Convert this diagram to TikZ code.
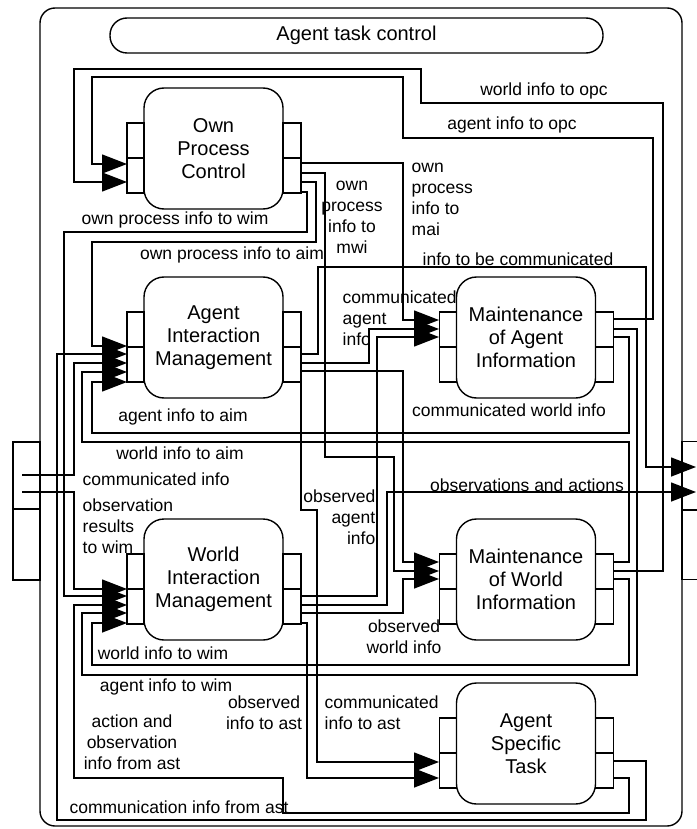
\documentclass[tikz,border=0pt]{standalone}
\usepackage{fontspec}
\setmainfont{Liberation Sans}
\usepackage{tikz}
\usetikzlibrary{arrows.meta, positioning, calc}

\newcommand\lbltext{\fontsize{17.5}{21}\selectfont}
\newcommand\comptext{\fontsize{20}{23}\selectfont}
\newcommand\porttabs[1]{%
  \draw ($(#1.north west)+(-17,35)$) rectangle ($(#1.north west)+(0,105)$);
  \draw ($(#1.north west)+(-17,70)$) -- ($(#1.north west)+(0,70)$);
  \draw ($(#1.north east)+(0,35)$) rectangle ($(#1.north east)+(18,105)$);
  \draw ($(#1.north east)+(0,70)$) -- ($(#1.north east)+(18,70)$);
}

\begin{document}
\begin{tikzpicture}[
    x=1pt, y=-1pt, line width=1.4pt,
    comp/.style={draw, rounded corners=20pt, minimum width=139pt, minimum height=121pt, align=center, font=\comptext, inner sep=0pt, outer sep=0pt},
    extbox/.style={draw, minimum width=27pt, minimum height=138pt, inner sep=0pt, outer sep=0pt},
    lbl/.style={font=\lbltext, align=center, inner sep=0pt},
    link/.style={-{Triangle[length=25pt, width=19pt]}}
  ]
  \useasboundingbox (0,0) rectangle (696,829);

  \node[draw, rounded corners=15pt, minimum width=642pt, minimum height=818pt, inner sep=0pt, outer sep=0pt] (agent) at (361,417) {};
  \node[draw, rounded corners=17pt, minimum width=493pt, minimum height=35pt, inner sep=0pt, outer sep=0pt, font=\comptext] (atc) at (356.5,35.5) {Agent task control};

  \node[extbox] (envin) at (26.5,511) {};
  \draw (envin.west |- 0,509) -- (envin.east |- 0,509);
  \node[extbox, minimum width=33pt] (envout) at (698.5,510.5) {};
  \draw (envout.west |- 0,510) -- (envout.east |- 0,510);

  \node[comp] (opc) at (213.5,148.5) {Own\\Process\\Control};
  \node[comp] (aim) at (213.5,337.5) {Agent\\Interaction\\Management};
  \node[comp] (wim) at (213.5,579.5) {World\\Interaction\\Management};
  \node[comp] (mai) at (526,337.5) {Maintenance\\of Agent\\Information};
  \node[comp] (mwi) at (526,579.5) {Maintenance\\of World\\Information};
  \node[comp] (ast) at (526,743.5) {Agent\\Specific\\Task};
  \foreach \c in {opc, aim, wim, mai, mwi, ast} {\porttabs{\c}}

  \coordinate (in1) at (22,475);
  \coordinate (in2) at (22,492);
  \coordinate (out1) at (696,467);
  \coordinate (out2) at (696,492);

  \coordinate (opc-i1) at (127,164);
  \coordinate (opc-i2) at (127,182);
  \coordinate (opc-o1) at (301,163);
  \coordinate (opc-o2) at (301,173);
  \coordinate (opc-o3) at (301,182);
  \coordinate (opc-o4) at (301,192);

  \coordinate (aim-i1) at (127,346);
  \coordinate (aim-i2) at (127,354);
  \coordinate (aim-i3) at (127,363);
  \coordinate (aim-i4) at (127,372);
  \coordinate (aim-i5) at (127,382);
  \coordinate (aim-o1) at (301,354);
  \coordinate (aim-o2) at (301,363);
  \coordinate (aim-o3) at (301,371);
  \coordinate (aim-o4) at (301,382);

  \coordinate (wim-i1) at (127,589);
  \coordinate (wim-i2) at (127,596);
  \coordinate (wim-i3) at (127,605);
  \coordinate (wim-i4) at (127,613);
  \coordinate (wim-i5) at (127,623);
  \coordinate (wim-o1) at (301,596);
  \coordinate (wim-o2) at (301,605);
  \coordinate (wim-o3) at (301,613);
  \coordinate (wim-o4) at (301,623);

  \coordinate (mai-i1) at (439,320);
  \coordinate (mai-i2) at (439,329);
  \coordinate (mai-i3) at (439,337);
  \coordinate (mai-o1) at (613,319);
  \coordinate (mai-o2) at (613,329);
  \coordinate (mai-o3) at (613,337);

  \coordinate (mwi-i1) at (439,562);
  \coordinate (mwi-i2) at (439,571);
  \coordinate (mwi-i3) at (439,579);
  \coordinate (mwi-o1) at (613,562);
  \coordinate (mwi-o2) at (613,571);
  \coordinate (mwi-o3) at (613,579);

  \coordinate (ast-i1) at (439,762);
  \coordinate (ast-i2) at (439,778);
  \coordinate (ast-o1) at (613,761);
  \coordinate (ast-o2) at (613,778);

  \draw[link] (mai-o1) -- (653,319) |- (403,138) |- (92,77) |- (opc-i1);
  \draw[link] (mwi-o2) -- (663,571) |- (421,103) |- (74,69) |- (opc-i2);

  \draw[link] (opc-o1) -- (403,163) |- (mai-i1);
  \draw[link] (opc-o2) -- (325,173) |- (394,457) |- (mwi-i2);
  \draw[link] (opc-o3) -- (316,182) |- (92,242) |- (aim-i1);
  \draw[link] (opc-o4) -- (307,192) |- (64,232) |- (wim-i2);

  \draw[link] (aim-o1) -- (318,354) |- (646,267) |- (out1);
  \draw[link] (aim-o2) -- (369,363) |- (mai-i2);
  \draw[link] (aim-o3) -- (403,371) |- (mwi-i1);
  \draw[link] (aim-o4) -- (301,510) -- (317,510) |- (ast-i1);

  \draw[link] (in1) -- (74,475) |- (aim-i3);
  \draw[link] (ast-o1) -- (646,761) |- (57,820) |- (aim-i2);
  \draw[link] (mwi-o1) -- (629,562) |- (82,442) |- (aim-i4);
  \draw[link] (mai-o3) -- (629,337) |- (92,433) |- (aim-i5);

  \draw[link] (in2) -- (74,492) |- (wim-i1);
  \draw[link] (ast-o2) -- (629,778) |- (283,813) |- (74,778) |- (wim-i3);
  \draw[link] (mai-o2) -- (637,329) |- (82,675) |- (wim-i4);
  \draw[link] (mwi-o3) -- (629,579) |- (92,665) |- (wim-i5);

  \draw[link] (wim-o1) -- (377,596) |- (mai-i3);
  \draw[link] (wim-o2) -- (387,605) |- (out2);
  \draw[link] (wim-o3) -- (403,613) |- (mwi-i3);
  \draw[link] (wim-o4) -- (307,623) |- (ast-i2);

  \node[lbl] (l-wopc) at (544,91) {world info to opc};
  \node[lbl] (l-aopc) at (512,125) {agent info to opc};
  \node[lbl] (l-owim) at (175,220) {own process info to wim};
  \node[lbl] (l-oaim) at (232,255) {own process info to aim};
  \node[lbl] (l-omwi) at (352,217) {own\\process\\info to\\mwi};
  \node[lbl, align=left, anchor=west] (l-omai) at (411,199) {own\\process\\info to\\mai};
  \node[lbl] (l-icom) at (518,259) {info to be communicated};
  \node[lbl, align=left, anchor=west] (l-cai) at (342,318) {communicated\\agent\\info};
  \node[lbl] (l-cwi) at (509,410) {communicated world info};
  \node[lbl] (l-aaim) at (183,417) {agent info to aim};
  \node[lbl] (l-waim) at (180,453) {world info to aim};
  \node[lbl, anchor=west] (l-ci) at (82,479) {communicated info};
  \node[lbl, align=left, anchor=west] (l-orw) at (82,526) {observation\\results\\to wim};
  \node[lbl] (l-oa) at (527,485) {observations and actions};
  \node[lbl, align=right, anchor=east] (l-oai) at (376,517) {observed\\agent\\info};
  \node[lbl] (l-owi) at (404,637) {observed\\world info};
  \node[lbl] (l-wwim) at (163,653) {world info to wim};
  \node[lbl] (l-awim) at (166,687) {agent info to wim};
  \node[lbl] (l-oast) at (264,713) {observed\\info to ast};
  \node[lbl, align=left, anchor=west] (l-cast) at (324,713) {communicated\\info to ast};
  \node[lbl] (l-aoast) at (132,742) {action and\\observation\\info from ast};
  \node[lbl] (l-ciast) at (179,807) {communication info from ast};
\end{tikzpicture}
\end{document}
